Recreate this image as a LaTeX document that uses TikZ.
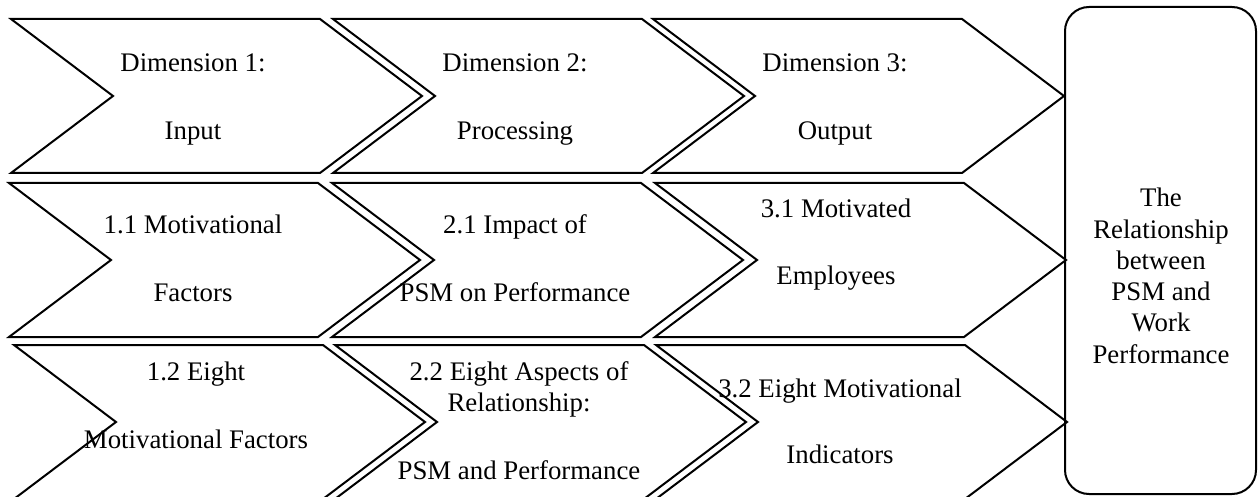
\documentclass[tikz,border=0pt]{standalone}
\usepackage{fontspec}
\setmainfont{Liberation Serif}
\usetikzlibrary{calc}
\newcommand{\chev}[2]{\draw[chevron] (#1,#2) -- ++(309,0) -- ++(102,77) -- ++(-102,77) -- ++(-309,0) -- ++(102,-77) -- cycle;}

\begin{document}
\begin{tikzpicture}[x=0.5pt,y=-0.5pt]

\tikzstyle{chevron} = [draw=black, line width=1pt, line join=miter]
\tikzstyle{dim-text} = [anchor=base, inner sep=0, font=\fontsize{13.4}{15.6}\selectfont]
\tikzstyle{rel-box} = [draw=black, line width=1pt, rounded corners=12pt,
minimum width=95.5pt, minimum height=243.5pt, inner sep=0]

\useasboundingbox (0,0) rectangle (1258,497);

% row 1
\chev{11}{19}
\chev{333}{19}
\chev{653}{19}

% row 2
\chev{9}{183}
\chev{332}{183}
\chev{655}{183}

% row 3
\chev{14}{345}
\chev{335}{345}
\chev{656}{345}


\node [dim-text] (dim1) at (193,72) {\begin{tabular}[t]{c} Dimension 1:\\[18pt] Input\end{tabular}};
\node [dim-text] (dim2) at (515,72) {\begin{tabular}[t]{c} Dimension 2:\\[18pt] Processing\end{tabular}};
\node [dim-text] (dim3) at (835,72) {\begin{tabular}[t]{c} Dimension 3:\\[18pt] Output\end{tabular}};

\node [dim-text] (sub11) at (193,234) {\begin{tabular}[t]{c} 1.1 Motivational\\[18.4pt] Factors\end{tabular}};
\node [dim-text] (sub21) at (515,234) {\begin{tabular}[t]{c} 2.1 Impact of\\[18.4pt] PSM on Performance\end{tabular}};
\node [dim-text] (sub31) at (836,218) {\begin{tabular}[t]{c} 3.1 Motivated\\[17.9pt] Employees\end{tabular}};

\node [dim-text] (sub12) at (196,380) {\begin{tabular}[t]{c} 1.2 Eight\\[18.4pt] Motivational Factors\end{tabular}};
\node [dim-text] (sub22) at (519,380) {\begin{tabular}[t]{c} 2.2 Eight Aspects of\\ Relationship:\\[18.4pt] PSM and Performance\end{tabular}};
\node [dim-text] (sub32) at (840,397) {\begin{tabular}[t]{c} 3.2 Eight Motivational\\[17.4pt] Indicators\end{tabular}};


\node [rel-box] (rel) at (1160.5,250.5) {};
\node [dim-text] (rel-t) at (1161,207) {\begin{tabular}[t]{c} The\\ Relationship\\ between\\ PSM and\\ Work\\ Performance\end{tabular}};

\end{tikzpicture}
\end{document}
